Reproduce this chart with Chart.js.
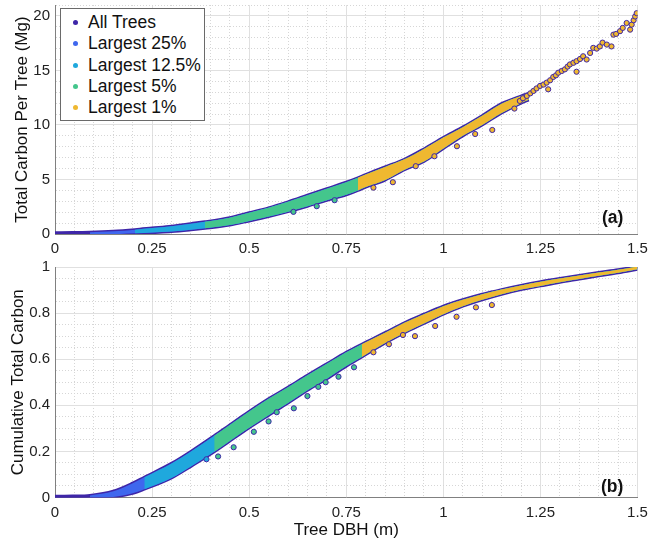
<!DOCTYPE html>
<html>
<head>
  <title>Tree carbon by DBH</title>
  <script src="https://cdn.jsdelivr.net/npm/chart.js"></script>
  <style>
    body {
      margin: 0;
      background: #ffffff;
      font-family: "Liberation Sans", Arial, sans-serif;
    }
    #wrap {
      position: relative;
      width: 650px;
      height: 545px;
      background: #ffffff;
    }
    .panel {
      position: absolute;
      left: 0;
    }
    .tag {
      position: absolute;
      font-weight: bold;
      font-size: 17.5px;
      line-height: 20px;
      color: #111;
    }
    #legend {
      position: absolute;
      left: 60px;
      top: 8px;
      width: 143px;
      height: 108px;
      padding-top: 3px;
      border: 1px solid #6a6a6a;
      background: #ffffff;
      font-size: 17.5px;
      color: #111;
    }
    .row {
      position: relative;
      height: 21.3px;
      line-height: 21.3px;
      padding-left: 27px;
    }
    .dot {
      position: absolute;
      left: 11.5px;
      top: 8.2px;
      width: 5px;
      height: 5px;
      border-radius: 50%;
    }
  </style>
</head>
<body>
  <div id="wrap">
    <div class="panel" style="top: 0;"><canvas id="carbonChart" width="650" height="262"></canvas></div>
    <div class="panel" style="top: 250px;"><canvas id="cumulativeChart" width="650" height="295"></canvas></div>
    <div class="tag" style="left: 602px; top: 207px;">(a)</div>
    <div class="tag" style="left: 601px; top: 476px;">(b)</div>
    <div id="legend"></div>
  </div>
  <script>
    const subsetNames = ['All Trees', 'Largest 25%', 'Largest 12.5%', 'Largest 5%', 'Largest 1%'];
    const subsetColors = ['#3e26a8', '#3f67ee', '#1fa8dd', '#44c68c', '#efb830'];
    // DBH where each subset begins (panel a / panel b)
    const topSubsetStart = [0, 0.09, 0.206, 0.386, 0.78];
    const botSubsetStart = [0, 0.09, 0.23, 0.41, 0.79];

    // panel (a): envelope of the dense point cloud, total carbon (Mg)
    const topBandDbh = [0, 0.045, 0.09, 0.15, 0.206, 0.25, 0.3, 0.35, 0.386, 0.45, 0.5, 0.55, 0.6, 0.65, 0.7, 0.75, 0.78, 0.8, 0.85, 0.9, 0.95, 1.0, 1.05, 1.1, 1.15, 1.2, 1.22];
    const topBandHigh = [0.12, 0.13, 0.16, 0.25, 0.4, 0.55, 0.72, 0.95, 1.12, 1.5, 1.95, 2.4, 2.95, 3.55, 4.15, 4.75, 5.15, 5.45, 6.15, 6.85, 7.8, 8.85, 9.8, 10.85, 11.95, 12.65, 12.9];
    const topBandLow = [-0.08, -0.08, -0.06, -0.02, 0.06, 0.14, 0.22, 0.38, 0.52, 0.82, 1.2, 1.6, 2.05, 2.55, 3.1, 3.6, 4.0, 4.3, 4.95, 5.9, 6.65, 7.85, 9.0, 10.0, 11.1, 12.0, 12.3];
    // panel (a): single trees (outliers and the sparse large trees)
    const topDotDbh = [0.614, 0.674, 0.72, 0.82, 0.87, 0.929, 0.977, 1.035, 1.082, 1.126, 1.183,
      1.197, 1.205, 1.215, 1.224, 1.232, 1.24, 1.249, 1.258, 1.266, 1.27, 1.275, 1.283, 1.29, 1.296, 1.305, 1.313, 1.32, 1.326, 1.335,
      1.343, 1.343, 1.352, 1.36, 1.369, 1.378, 1.386, 1.395, 1.403, 1.41, 1.421, 1.433, 1.438, 1.445, 1.455, 1.462, 1.472, 1.481, 1.485, 1.49, 1.494, 1.498];
    const topDotCarbon = [2.03, 2.55, 3.1, 4.25, 4.75, 6.22, 7.13, 8.05, 9.17, 9.54, 11.5,
      12.2, 12.45, 12.66, 12.9, 13.12, 13.35, 13.58, 13.7, 13.88, 13.27, 14.1, 14.4, 14.55, 14.79, 14.95, 15.1, 15.35, 15.55, 15.7,
      15.85, 14.88, 16.05, 16.3, 16.0, 16.6, 17.07, 17.0, 17.2, 17.55, 17.37, 17.2, 18.28, 18.35, 18.6, 18.9, 19.35, 18.74, 19.2, 19.6, 19.95, 20.25];

    // panel (b): envelope of cumulative total carbon
    const botBandDbh = [0, 0.045, 0.09, 0.15, 0.2, 0.23, 0.3, 0.35, 0.41, 0.45, 0.5, 0.55, 0.6, 0.65, 0.7, 0.75, 0.79, 0.85, 0.9, 0.95, 1.0, 1.05, 1.1, 1.15, 1.2, 1.25, 1.3, 1.35, 1.4, 1.45, 1.5];
    const botBandHigh = [0.005, 0.006, 0.009, 0.027, 0.062, 0.088, 0.148, 0.2, 0.268, 0.315, 0.373, 0.428, 0.478, 0.53, 0.58, 0.63, 0.665, 0.715, 0.758, 0.795, 0.83, 0.858, 0.882, 0.902, 0.92, 0.936, 0.95, 0.963, 0.976, 0.988, 1.002];
    const botBandLow = [-0.004, -0.004, -0.003, 0.002, 0.018, 0.036, 0.085, 0.135, 0.198, 0.245, 0.303, 0.357, 0.41, 0.465, 0.515, 0.57, 0.61, 0.67, 0.715, 0.755, 0.795, 0.83, 0.858, 0.882, 0.902, 0.918, 0.934, 0.948, 0.962, 0.975, 0.99];
    const botDotDbh = [0.39, 0.42, 0.46, 0.512, 0.55, 0.571, 0.615, 0.65, 0.678, 0.697, 0.73, 0.77, 0.82, 0.86, 0.896, 0.927, 0.979, 1.034, 1.084, 1.125];
    const botDotCum = [0.166, 0.178, 0.218, 0.285, 0.33, 0.37, 0.387, 0.44, 0.48, 0.5, 0.524, 0.565, 0.63, 0.665, 0.705, 0.7, 0.744, 0.784, 0.825, 0.835];

    const fontFamily = '"Liberation Sans", Arial, sans-serif';
    const isStep = (v, step) => Math.abs(v / step - Math.round(v / step)) < 1e-6;
    const fmt = v => String(Math.round(v * 100) / 100);

    function bandDatasets(dbh, high, low, from, color, order, outline) {
      const hi = [], lo = [];
      dbh.forEach((d, i) => {
        if (d >= from - 1e-9) {
          hi.push({x: d, y: high[i]});
          lo.push({x: d, y: low[i]});
        }
      });
      const common = {
        type: 'line',
        pointRadius: 0,
        cubicInterpolationMode: 'monotone',
        order: order,
        borderColor: outline ? subsetColors[0] : 'transparent',
        borderWidth: outline ? 3 : 0
      };
      return [
        Object.assign({}, common, {data: hi, fill: false}),
        Object.assign({}, common, {data: lo, fill: '-1', backgroundColor: color})
      ];
    }

    function dotDataset(dbh, vals, starts) {
      const colors = dbh.map(d => subsetColors[starts.filter(s => d >= s).length - 1]);
      return {
        type: 'scatter',
        data: dbh.map((d, i) => ({x: d, y: vals[i]})),
        showLine: false,
        pointRadius: 2.6,
        pointBorderWidth: 1,
        pointBorderColor: subsetColors[0],
        pointBackgroundColor: colors,
        order: 0
      };
    }

    function buildDatasets(dbh, high, low, starts, dotX, dotY) {
      let sets = [];
      starts.forEach((s, k) => {
        sets = sets.concat(bandDatasets(dbh, high, low, s, subsetColors[k], 10 - k, k === 0));
      });
      sets.push(dotDataset(dotX, dotY, starts));
      return sets;
    }

    function gridFor(step) {
      return {
        color: ctx => (ctx.tick && isStep(ctx.tick.value, step)) ? '#e0e0e0' : '#d6d6d6',
        lineWidth: 1,
        drawTicks: false
      };
    }
    function borderFor(step) {
      return {
        color: '#808080',
        width: 1,
        dash: ctx => (ctx.tick && !isStep(ctx.tick.value, step)) ? [1, 2] : []
      };
    }

    function chartOptions(cfg) {
      return {
        responsive: false,
        animation: false,
        layout: {padding: {top: cfg.padTop, right: 12.5, bottom: 0, left: 0}},
        plugins: {legend: {display: false}, tooltip: {enabled: false}},
        scales: {
          x: {
            type: 'linear',
            min: 0,
            max: 1.5,
            grid: gridFor(0.25),
            border: borderFor(0.25),
            ticks: {
              stepSize: 0.05,
              autoSkip: false,
              maxRotation: 0,
              padding: 6,
              color: '#222',
              font: {family: fontFamily, size: 15},
              callback: v => isStep(v, 0.25) ? fmt(v) : ''
            },
            title: {
              display: !!cfg.xTitle,
              text: cfg.xTitle || '',
              color: '#111',
              font: {family: fontFamily, size: 17},
              padding: {top: 0, bottom: 4}
            },
            afterFit: scale => {
              scale.height = cfg.xHeight;
              scale.paddingLeft = 0;
              scale.paddingRight = 0;
            }
          },
          y: {
            type: 'linear',
            min: 0,
            max: cfg.yMax,
            grid: gridFor(cfg.yMajor),
            border: borderFor(cfg.yMajor),
            ticks: {
              stepSize: cfg.yStep,
              autoSkip: false,
              padding: 5,
              color: '#222',
              font: {family: fontFamily, size: 15},
              callback: v => isStep(v, cfg.yMajor) ? fmt(v) : ''
            },
            title: {
              display: true,
              text: cfg.yTitle,
              color: '#111',
              font: {family: fontFamily, size: 17},
              padding: {top: cfg.yTitlePad, bottom: 0}
            },
            afterFit: scale => {
              scale.width = 55;
              scale.paddingTop = 0;
              scale.paddingBottom = 0;
            }
          }
        }
      };
    }

    var carbonChart = new Chart(document.getElementById('carbonChart'), {
      type: 'line',
      data: {datasets: buildDatasets(topBandDbh, topBandHigh, topBandLow, topSubsetStart, topDotDbh, topDotCarbon)},
      options: chartOptions({padTop: 4, xHeight: 28, yMax: 21, yStep: 1, yMajor: 5,
        yTitle: 'Total Carbon Per Tree (Mg)', yTitlePad: 12})
    });

    var cumulativeChart = new Chart(document.getElementById('cumulativeChart'), {
      type: 'line',
      data: {datasets: buildDatasets(botBandDbh, botBandHigh, botBandLow, botSubsetStart, botDotDbh, botDotCum)},
      options: chartOptions({padTop: 17, xHeight: 47.5, yMax: 1, yStep: 0.05, yMajor: 0.2,
        yTitle: 'Cumulative Total Carbon', yTitlePad: 8, xTitle: 'Tree DBH (m)'})
    });

    // legend
    const legendEl = document.getElementById('legend');
    subsetNames.forEach((name, k) => {
      const row = document.createElement('div');
      row.className = 'row';
      const dot = document.createElement('span');
      dot.className = 'dot';
      dot.style.background = subsetColors[k];
      row.appendChild(dot);
      row.appendChild(document.createTextNode(name));
      legendEl.appendChild(row);
    });
  </script>
</body>
</html>
